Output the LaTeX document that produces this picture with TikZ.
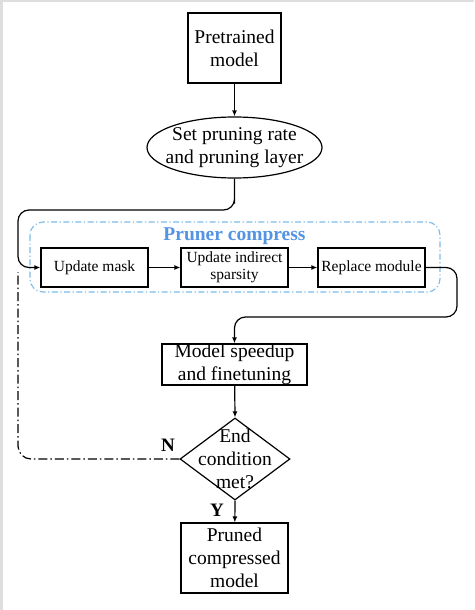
\documentclass[tikz,border=0pt]{standalone}
\usepackage{fontspec}
\setmainfont{Liberation Serif}
\usetikzlibrary{shapes.geometric,arrows.meta}

\definecolor{prunerblue}{RGB}{84,148,226}
\definecolor{framblue}{RGB}{125,188,232}
\definecolor{edgegray}{RGB}{222,222,222}

\tikzset{
  stepbox/.style={draw,line width=1.2pt,align=center,inner sep=0pt},
  flow/.style={line width=1.2pt,-{Latex[length=6pt,width=5pt]}},
  bigtxt/.style={font=\fontsize{19.5}{23}\selectfont},
  smalltxt/.style={font=\fontsize{15.5}{17}\selectfont}
}

\begin{document}
\begin{tikzpicture}[x=1pt,y=-1pt]
\useasboundingbox (0,0) rectangle (474,610);
\fill[white] (0,0) rectangle (474,610);
% edge of the scan
\fill[edgegray] (0,0) rectangle (474,2.5);
\fill[edgegray] (0,0) rectangle (2.5,610);

% Pruner compress frame
\draw[framblue,line width=1.1pt,dash pattern={on 6pt off 2.5pt on 1.2pt off 2.5pt},rounded corners=13pt] (30,222) rectangle (440,292);
\node[font=\bfseries\fontsize{19.5}{22}\selectfont,text=prunerblue] (title) at (234.5,236) {Pruner compress};

% Nodes
\node[stepbox,bigtxt,minimum width=93pt,minimum height=70pt] (pretrained) at (234.5,48) {Pretrained\\model};
\node[draw,line width=1.2pt,ellipse,inner sep=0pt,minimum width=175pt,minimum height=61pt] (setrate) at (234.5,147.5) {};
\node[bigtxt,align=center,inner sep=0pt] (settxt) at (234.5,147.5) {Set pruning rate\\and pruning layer};
\node[stepbox,smalltxt,minimum width=107pt,minimum height=39pt] (mask) at (94.5,267.5) {Update mask};
\node[stepbox,smalltxt,minimum width=107pt,minimum height=39pt] (sparsity) at (234.5,267.5) {Update indirect\\sparsity};
\node[stepbox,smalltxt,minimum width=107pt,minimum height=39pt] (replace) at (371.5,267.5) {Replace module};
\node[stepbox,bigtxt,minimum width=145pt,minimum height=41pt] (speedup) at (234.5,364.5) {Model speedup\\and finetuning};
\node[draw,line width=1.2pt,diamond,aspect=1.34,inner sep=0pt,minimum width=110pt,minimum height=82pt] (endcond) at (235,459) {};
\node[bigtxt,align=center] (endtxt) at (235,459) {End\\condition\\met?};
\node[stepbox,bigtxt,minimum width=107pt,minimum height=70pt] (pruned) at (234.5,558) {Pruned\\compressed\\model};

\node[font=\bfseries\fontsize{19}{20}\selectfont] (nlab) at (168,445) {N};
\node[font=\bfseries\fontsize{19}{20}\selectfont] (ylab) at (217,510) {Y};

\coordinate (loopend) at (18,272);

% Connectors
\draw[flow] (pretrained) -- (setrate);
\draw[flow,rounded corners=11pt] (setrate.south) |- (234.5,210) -| (18,267.5) -- (mask.west);
\draw[flow] (mask) -- (sparsity);
\draw[flow] (sparsity) -- (replace);
\draw[flow,rounded corners=11pt] (replace.east) -| (457,317) -| (speedup.north);
\draw[flow] (speedup) -- (endcond.north);
\draw[flow] (endcond.south) -- (pruned);
\draw[line width=1.2pt,dash pattern={on 9pt off 3pt on 1.5pt off 3pt},rounded corners=13pt] (endcond.west) -| (loopend);
\end{tikzpicture}
\end{document}
